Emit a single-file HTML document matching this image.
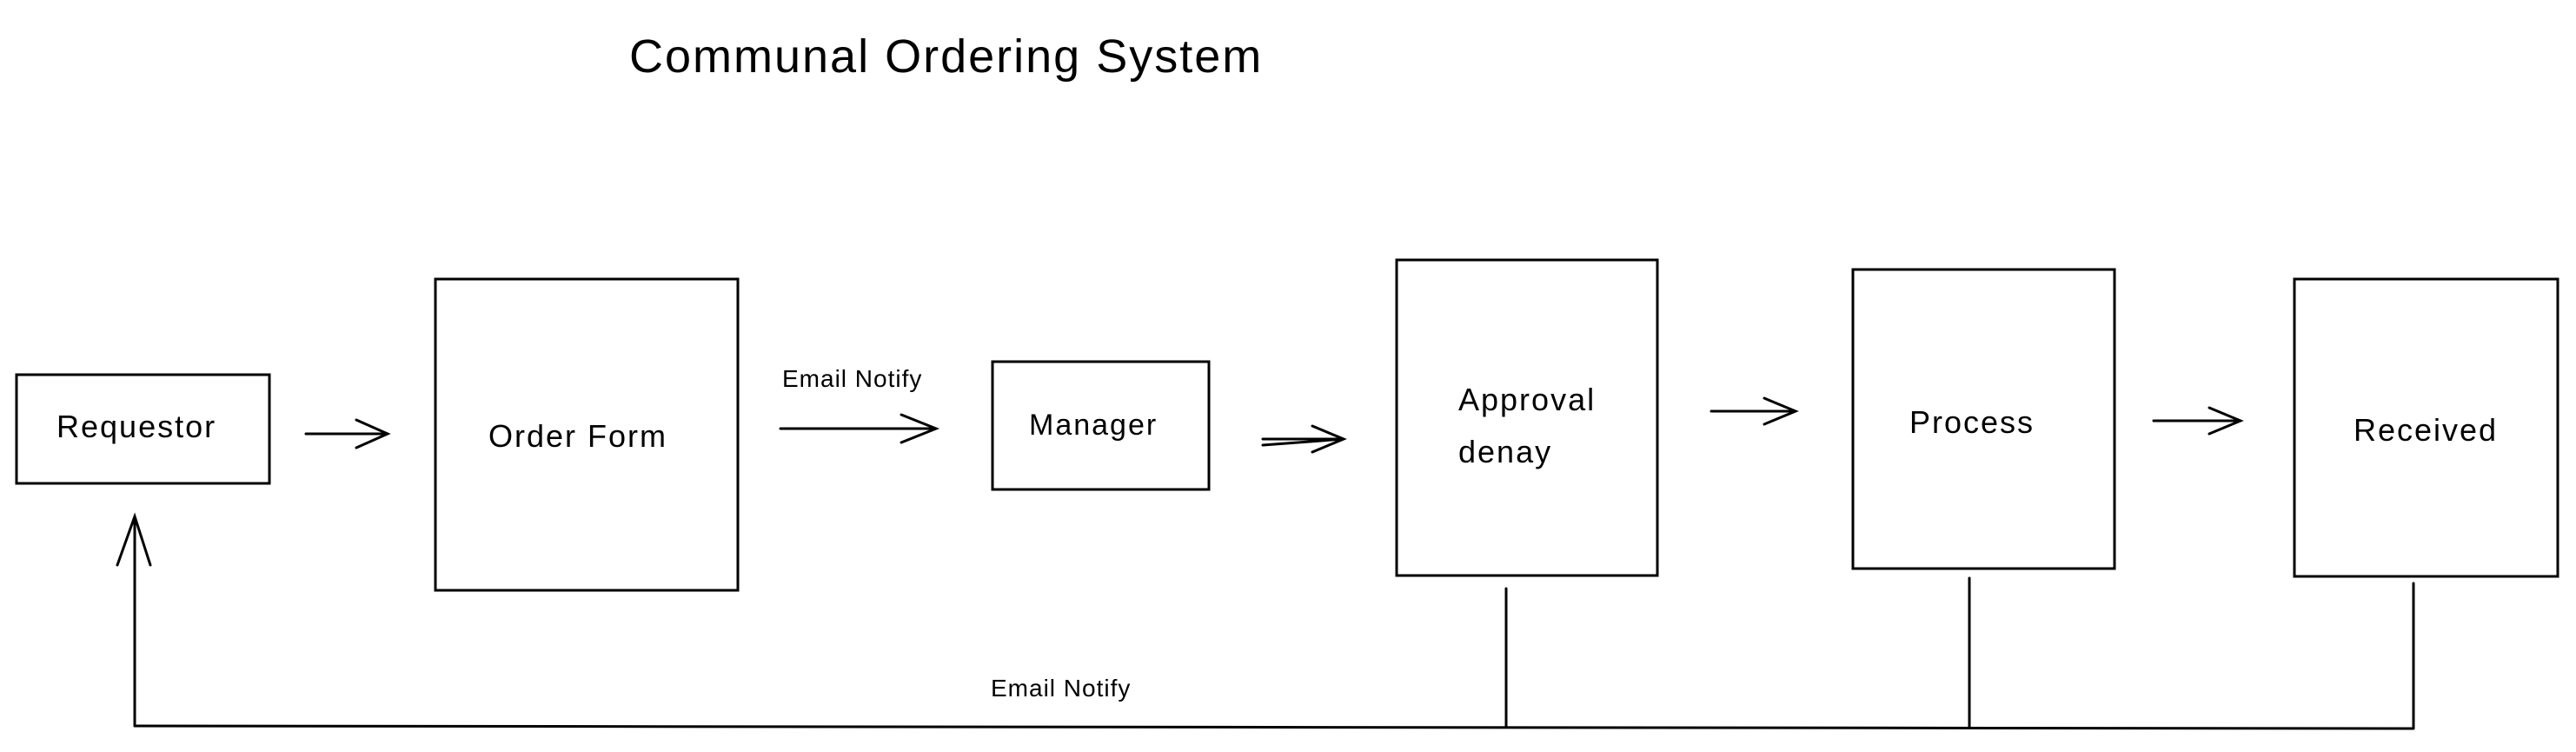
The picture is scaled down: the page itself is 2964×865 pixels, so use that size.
<!DOCTYPE html>
<html><head><style>
html,body{margin:0;padding:0;background:#fff;}
body{width:2964px;height:865px;position:relative;overflow:hidden;font-family:"Liberation Sans",sans-serif;color:#000;}
.t{position:absolute;white-space:nowrap;letter-spacing:2px;}
</style></head><body>
<svg width="2964" height="865" style="position:absolute;left:0;top:0" fill="none" stroke="#000" stroke-width="3" stroke-linecap="round">
<rect x="19" y="431" width="291" height="125"/>
<rect x="501" y="321" width="348" height="358"/>
<rect x="1142" y="416" width="249" height="147"/>
<rect x="1607" y="299" width="300" height="363"/>
<rect x="2132" y="310" width="301" height="344"/>
<rect x="2640" y="321" width="303" height="342"/>
<g>
<path d="M352 499 L446 499 M410 483 L446 499 L410 515"/>
<path d="M898 493 L1077 493 M1037 477 L1077 493 L1037 509"/>
<path d="M1453 505 L1546 505 M1453 512 L1546 505 M1510 490 L1546 505 L1510 520"/>
<path d="M1969 473 L2066 473 M2030 458 L2066 473 L2030 488"/>
<path d="M2478 484 L2578 484 M2542 469 L2578 484 L2542 499"/>
<path d="M155 835 L2777 838 M1733 677 L1733 836 M2266 665 L2266 836 M2777 671 L2777 838"/>
<path d="M155 835 L155 594 M135 650 L155 594 L173 650"/>
</g>
</svg>
<div class="t" style="left:724px;top:34px;font-size:54px;letter-spacing:2px;">Communal Ordering System</div>
<div class="t" style="left:65px;top:470px;font-size:36px;">Requestor</div>
<div class="t" style="left:562px;top:481px;font-size:36px;">Order Form</div>
<div class="t" style="left:1184px;top:470px;font-size:34px;">Manager</div>
<div class="t" style="left:1678px;top:430px;font-size:36px;line-height:60px;">Approval<br>denay</div>
<div class="t" style="left:2197px;top:465px;font-size:36px;">Process</div>
<div class="t" style="left:2708px;top:474px;font-size:36px;">Received</div>
<div class="t" style="left:900px;top:420px;font-size:28px;letter-spacing:1px;">Email Notify</div>
<div class="t" style="left:1140px;top:776px;font-size:28px;letter-spacing:1px;">Email Notify</div>
</body></html>
